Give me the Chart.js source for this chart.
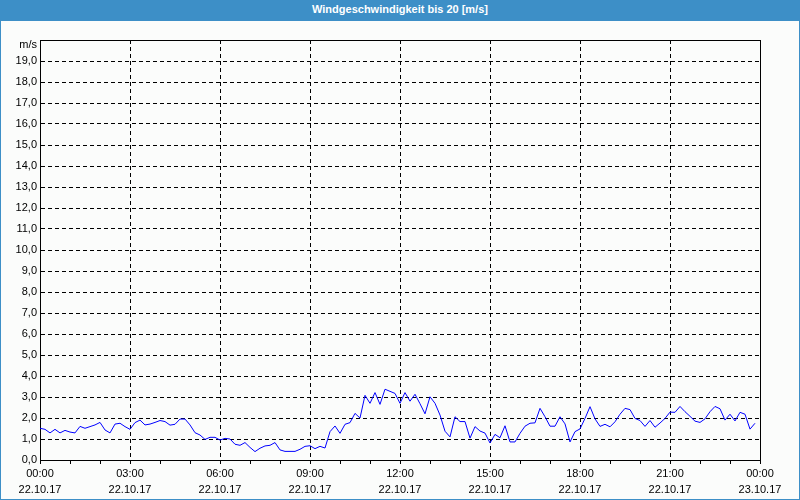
<!DOCTYPE html>
<html>
<head>
<meta charset="utf-8">
<script src="https://cdn.jsdelivr.net/npm/chart.js@4/dist/chart.umd.min.js"></script>
<style>
html,body{margin:0;padding:0;background:#ffffff;}
#wrap{position:relative;width:800px;height:500px;box-sizing:border-box;border:1px solid #3d8fc7;background:#fbfcfb;overflow:hidden;}
#title{position:absolute;left:-1px;top:-1px;width:800px;height:21px;background:#3d8fc7;color:#ffffff;
  font-family:"Liberation Sans Narrow","Liberation Sans",sans-serif;font-weight:bold;font-size:11px;text-align:center;line-height:19px;}
#c{position:absolute;left:-1px;top:-1px;}
</style>
</head>
<body>
<div id="wrap">
  <div id="title">Windgeschwindigkeit bis 20 [m/s]</div>
  <canvas id="c" width="800" height="500"></canvas>
</div>
<script>
// Wind speed [m/s], one value every 10 minutes from 22.10.17 00:00 to 23:50
const intervalMinutes = 10;
const windSpeed = [
  1.51,1.46,1.29,1.46,1.29,1.41,1.33,1.29,1.60,1.51,1.59,1.67,
  1.79,1.43,1.29,1.71,1.75,1.59,1.46,1.78,1.90,1.67,1.71,1.79,
  1.88,1.83,1.66,1.70,1.95,1.95,1.67,1.30,1.19,0.98,1.08,1.08,
  0.95,1.03,1.00,0.75,0.70,0.83,0.60,0.40,0.56,0.67,0.70,0.83,
  0.48,0.41,0.41,0.41,0.51,0.65,0.68,0.54,0.65,0.57,1.35,1.62,
  1.27,1.70,1.78,2.22,2.00,3.08,2.70,3.21,2.65,3.37,3.27,3.17,
  2.70,3.21,2.80,3.13,2.68,2.20,3.01,2.70,2.14,1.37,1.10,2.06,
  1.83,1.83,1.04,1.59,1.38,1.28,0.81,1.22,1.06,1.63,0.86,0.86,
  1.27,1.61,1.75,1.77,2.46,2.06,1.61,1.61,2.06,1.72,0.86,1.35,
  1.48,1.98,2.54,1.96,1.60,1.70,1.58,1.82,2.18,2.46,2.40,1.98,
  1.88,1.60,1.88,1.56,1.76,1.98,2.28,2.27,2.55,2.30,2.08,1.85,
  1.79,1.96,2.30,2.55,2.44,1.90,2.18,1.86,2.27,2.18,1.47,1.75
];
const xTickTimes = ['00:00','03:00','06:00','09:00','12:00','15:00','18:00','21:00','00:00'];
const xTickDates = ['22.10.17','22.10.17','22.10.17','22.10.17','22.10.17','22.10.17','22.10.17','22.10.17','23.10.17'];
const yUnitLabel = 'm/s';
const yMin = 0, yMax = 20;
const xHours = 24;
const labelStep = 3;

const tickFont = {family:'"Liberation Sans Narrow","Liberation Sans",sans-serif', size:11};

const frame = {
  id:'frame',
  afterDraw(chart){
    const {ctx, chartArea:a} = chart;
    ctx.save();
    ctx.strokeStyle = '#000';
    ctx.lineWidth = 1;
    ctx.setLineDash([]);
    ctx.beginPath();
    ctx.moveTo(Math.round(a.left)+0.5, Math.round(a.top)+0.5);
    ctx.lineTo(Math.round(a.right)+0.5, Math.round(a.top)+0.5);
    ctx.lineTo(Math.round(a.right)+0.5, Math.round(a.bottom)+0.5);
    ctx.stroke();
    ctx.fillStyle = '#000';
    ctx.font = '11px ' + tickFont.family;
    ctx.textAlign = 'right';
    ctx.textBaseline = 'middle';
    ctx.fillText(yUnitLabel, a.left - 3, a.top + 5);
    ctx.restore();
  }
};

new Chart(document.getElementById('c'), {
  type:'line',
  data:{
    datasets:[{
      data: windSpeed.map((v,i)=>({x: i*intervalMinutes/60, y: v})),
      borderColor:'#0000ff',
      borderWidth:1,
      pointRadius:0,
      tension:0,
      fill:false
    }]
  },
  options:{
    responsive:false,
    animation:false,
    events:[],
    layout:{padding:{left:0,right:40,top:40,bottom:0}},
    plugins:{legend:{display:false},title:{display:false},tooltip:{enabled:false}},
    scales:{
      x:{
        type:'linear', min:0, max:xHours,
        afterFit(s){ s.height = 40; },
        afterBuildTicks(s){ const t=[]; for(let h=0;h<=xHours;h++) t.push({value:h}); s.ticks=t; },
        ticks:{
          autoSkip:false, maxRotation:0, minRotation:0, padding:2, color:'#000',
          font:Object.assign({lineHeight:1.45}, tickFont),
          callback(v){ return v%labelStep===0 ? [xTickTimes[v/labelStep], xTickDates[v/labelStep]] : ''; }
        },
        grid:{
          color(c){ return (c.tick && c.tick.value%labelStep===0) ? '#000' : 'rgba(0,0,0,0)'; },
          tickColor:'#000', tickLength:4, drawTicks:true, lineWidth:1
        },
        border:{display:true,color:'#000',width:1,dash:[4,3]}
      },
      y:{
        min:yMin, max:yMax,
        afterFit(s){ s.width = 40; },
        afterBuildTicks(s){ const t=[]; for(let v=yMin;v<=yMax;v++) t.push({value:v}); s.ticks=t; },
        ticks:{
          padding:3, color:'#000', font:tickFont, autoSkip:false,
          callback(v){ return v===yMax ? '' : v.toFixed(1).replace('.',','); }
        },
        grid:{color:'#000', drawTicks:false, lineWidth:1},
        border:{display:true,color:'#000',width:1,dash:[4,3]}
      }
    }
  },
  plugins:[frame]
});
</script>
</body>
</html>
